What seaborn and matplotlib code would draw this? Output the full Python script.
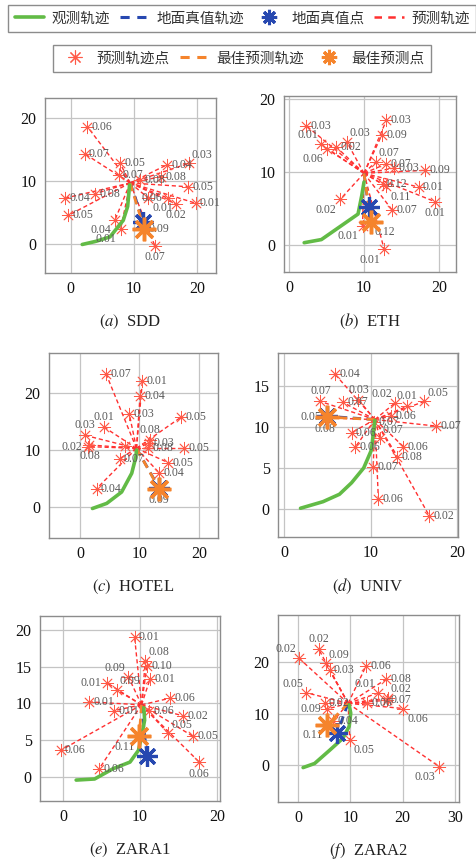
import numpy as np
import pandas as pd
import matplotlib
matplotlib.use("Agg")
import matplotlib.pyplot as plt
from matplotlib.lines import Line2D
import seaborn as sns

# ---------------------------------------------------------------- data
# Each scene: start of prediction, observed path, ground-truth endpoint,
# best predicted endpoint (with its probability) and the sampled endpoints.

SDD_ORIGIN = (9.4, 9.7)
SDD_OBS_X = [1.8, 4.0, 6.2, 8.3, 9.0, 9.3]
SDD_OBS_Y = [0.0, 0.5, 1.2, 3.8, 6.0, 9.4]
SDD_GT = (11.5, 3.6)
SDD_BEST = (11.6, 2.5)
SDD_BEST_P = 0.09
SDD_PX = [2.6, 2.2, 7.8, 7.6, 15.3, 18.7, 14.3, 11.0, 18.6, 19.8, 16.6, 15.4, 12.3, -0.95, 3.8, -0.4, 7.0, 7.9, 13.3]
SDD_PY = [18.6, 14.3, 12.8, 10.9, 12.6, 12.8, 10.7, 10.2, 9.1, 6.5, 6.4, 7.3, 7.3, 7.3, 8.0, 4.6, 3.9, 2.5, -0.2]
SDD_P = [0.06, 0.07, 0.05, 0.07, 0.04, 0.03, 0.08, 0.08, 0.05, 0.01, 0.02, 0.06, 0.01, 0.04, 0.08, 0.05, 0.04, 0.01, 0.07]

ETH_ORIGIN = (10.0, 9.8)
ETH_OBS_X = [2.0, 4.3, 9.2, 9.7, 10.0]
ETH_OBS_Y = [0.27, 0.7, 4.2, 6.75, 8.6]
ETH_GT = (10.6, 5.2)
ETH_BEST = (10.9, 3.1)
ETH_BEST_P = 0.12
ETH_PX = [2.3, 4.2, 5.1, 6.3, 7.7, 12.4, 13.0, 11.6, 13.0, 14.0, 18.2, 12.5, 13.0, 17.3, 19.5, 13.8, 6.8, 9.8, 12.7]
ETH_PY = [16.3, 13.8, 13.1, 13.4, 14.1, 15.1, 17.1, 11.4, 11.1, 10.5, 10.2, 8.3, 8.0, 7.9, 5.9, 4.7, 6.2, 2.6, -0.65]
ETH_P = [0.03, 0.01, 0.06, 0.02, 0.03, 0.09, 0.03, 0.07, 0.07, 0.03, 0.09, 0.12, 0.11, 0.01, 0.01, 0.07, 0.02, 0.01, 0.01]

HOTEL_ORIGIN = (9.5, 10.3)
HOTEL_OBS_X = [2.1, 4.5, 7.0, 8.7, 9.4, 9.5]
HOTEL_OBS_Y = [-0.3, 0.6, 2.6, 5.9, 8.8, 10.0]
HOTEL_GT = (13.3, 3.3)
HOTEL_BEST = (13.3, 3.2)
HOTEL_BEST_P = 0.09
HOTEL_PX = [4.4, 10.5, 10.1, 8.3, 4.1, 17.0, 0.84, 1.4, 1.6, 7.6, 6.7, 2.8, 11.8, 11.6, 11.5, 17.5, 14.8, 13.3]
HOTEL_PY = [23.4, 22.2, 19.5, 16.3, 14.0, 15.8, 12.6, 10.6, 10.9, 10.7, 8.5, 3.2, 11.8, 11.2, 10.3, 10.3, 7.8, 6.0]
HOTEL_P = [0.07, 0.01, 0.04, 0.03, 0.01, 0.05, 0.03, 0.02, 0.08, None, 0.07, 0.04, 0.08, 0.03, 0.08, 0.05, 0.05, 0.04]

UNIV_ORIGIN = (10.5, 10.9)
UNIV_OBS_X = [1.9, 4.5, 6.4, 7.8, 9.2, 10.1, 10.4, 10.5]
UNIV_OBS_Y = [0.1, 0.9, 1.8, 3.2, 5.0, 7.2, 10.0, 10.8]
UNIV_GT = (5.0, 11.3)
UNIV_BEST = (5.0, 11.2)
UNIV_BEST_P = 0.05
UNIV_PX = [4.7, 5.9, 4.2, 6.8, 8.6, 12.8, 14.2, 16.2, 12.4, 17.6, 10.4, 7.8, 8.2, 11.1, 13.8, 13.1, 10.3, 10.9, 16.8]
UNIV_PY = [11.1, 16.4, 13.1, 13.0, 13.3, 12.9, 12.5, 13.1, 11.3, 10.1, 10.6, 9.3, 7.5, 8.6, 7.6, 6.4, 5.1, 1.2, -0.85]
UNIV_P = [0.08, 0.04, 0.07, 0.07, 0.03, 0.02, 0.01, 0.05, 0.06, 0.07, 0.07, 0.06, 0.06, 0.07, 0.06, 0.08, 0.07, 0.06, 0.02]

ZARA1_ORIGIN = (10.2, 9.8)
ZARA1_OBS_X = [1.7, 4.1, 6.5, 8.7, 9.8, 10.2, 10.6, 10.5]
ZARA1_OBS_Y = [-0.45, -0.3, 1.1, 2.0, 3.6, 5.5, 7.7, 9.4]
ZARA1_GT = (10.9, 2.8)
ZARA1_BEST = (9.9, 5.5)
ZARA1_BEST_P = 0.11
ZARA1_PX = [9.3, 10.7, 10.9, 11.3, 8.5, 5.7, 7.0, 3.4, 13.9, 15.6, 13.7, 16.9, 17.7, -0.3, 4.7, 6.6, 11.2]
ZARA1_PY = [19.0, 15.8, 15.1, 13.3, 13.6, 12.8, 11.8, 10.2, 10.7, 8.3, 5.9, 5.5, 2.0, 3.6, 1.1, 9.0, 8.9]
ZARA1_P = [0.01, 0.08, 0.10, 0.01, 0.09, 0.01, 0.09, 0.01, 0.06, 0.02, 0.05, 0.05, 0.06, 0.06, 0.06, 0.01, 0.06]

ZARA2_ORIGIN = (9.6, 12.0)
ZARA2_OBS_X = [1.0, 3.2, 6.1, 8.6, 9.8, 10.1, 9.8]
ZARA2_OBS_Y = [-0.5, 0.3, 2.9, 5.2, 7.5, 10.1, 11.7]
ZARA2_GT = (7.5, 6.2)
ZARA2_BEST = (5.6, 7.8)
ZARA2_BEST_P = 0.11
ZARA2_PX = [0.2, 4.0, 5.3, 6.1, 13.0, 16.9, 15.3, 17.2, 17.0, 13.2, 20.1, 1.5, 5.1, 5.6, 9.9, 27.0, 6.8]
ZARA2_PY = [20.8, 22.5, 19.8, 18.5, 19.2, 16.7, 14.0, 13.0, 12.6, 12.1, 11.0, 14.1, 12.1, 10.9, 4.9, -0.3, 8.6]
ZARA2_P = [0.02, 0.02, 0.09, 0.03, 0.06, 0.08, 0.01, 0.02, 0.07, 0.06, 0.06, 0.05, 0.02, 0.09, 0.05, 0.03, 0.04]

CAPTION_LETTERS = ["a", "b", "c", "d", "e", "f"]
SCENE_NAMES = ["SDD", "ETH", "HOTEL", "UNIV", "ZARA1", "ZARA2"]
LEGEND_LABELS = ["观测轨迹", "地面真值轨迹", "地面真值点", "预测轨迹",
                 "预测轨迹点", "最佳预测轨迹", "最佳预测点"]

# ---------------------------------------------------------------- layout
# where each probability label sits relative to its endpoint
LABEL_SIDE = {
    "SDD": ["r", "r", "r", "r", "r", "ar", "r", "r", "r", "r", "b", "l", "br", "r", "r", "r", "bl", "bl", "b"],
    "ETH": ["r", "al", "bl", "r", "ar", "r", "r", "ar", "r", "r", "r", "r", "br", "r", "b", "r", "bl", "bl", "bl"],
    "HOTEL": ["r", "r", "r", "r", "a", "r", "a", "l", "b", "r", "r", "r", "a", "r", "r", "r", "r", "r"],
    "UNIV": ["b", "r", "a", "r", "a", "al", "a", "ar", "r", "r", "r", "r", "r", "ar", "r", "r", "r", "r", "r"],
    "ZARA1": ["r", "ar", "r", "r", "al", "l", "ar", "r", "r", "r", "ar", "r", "b", "r", "r", "r", "r"],
    "ZARA2": ["al", "a", "ar", "r", "r", "r", "al", "ar", "r", "r", "br", "al", "r", "l", "br", "bl", "r"],
}
BEST_SIDE = {"SDD": "r", "ETH": "br", "HOTEL": "b", "UNIV": "l", "ZARA1": "bl", "ZARA2": "bl"}

# axes rectangles in pixels: left, top, right, bottom
FIG_W, FIG_H = 476, 865
AX_PX = {
    "SDD": (45, 98, 216, 273),
    "ETH": (284, 96, 456, 272),
    "HOTEL": (49, 353, 218, 538),
    "UNIV": (278, 353, 458, 537),
    "ZARA1": (40, 616, 220, 801),
    "ZARA2": (278, 615, 459, 802),
}
LIMITS = {
    "SDD": ((-4.1, 23.0), (-4.5, 23.1), [0, 10, 20], [0, 10, 20]),
    "ETH": ((-0.7, 22.3), (-3.75, 20.4), [0, 10, 20], [0, 10, 20]),
    "HOTEL": ((-5.2, 23.2), (-5.5, 27.1), [0, 10, 20], [0, 10, 20]),
    "UNIV": ((-0.7, 20.1), (-3.4, 19.0), [0, 10, 20], [0, 5, 10, 15]),
    "ZARA1": ((-3.0, 20.4), (-3.3, 21.9), [0, 10, 20], [0, 5, 10, 15, 20]),
    "ZARA2": ((-3.8, 30.8), (-7.2, 29.2), [0, 10, 20, 30], [0, 10, 20]),
}

OFFSETS = {
    "r": (3, 0, "left", "center"), "l": (-4, 0, "right", "center"),
    "a": (0, 3, "center", "bottom"), "b": (0, -4, "center", "top"),
    "ar": (2, 2, "left", "bottom"), "al": (-2, 2, "right", "bottom"),
    "br": (3, -3, "left", "top"), "bl": (-3, -3, "right", "top"),
}

GREEN = "#62bb46"
BLUE = "#2748b0"
RED = "#ff3030"
RED_MK = "#ff5a48"
ORANGE = "#f5842c"
TEXT_GRAY = "#5a5a5a"
SERIF = "Liberation Serif"
STAR = (8, 2, 0)

sns.set_theme(style="whitegrid")
plt.rcParams["font.family"] = ["Noto Sans CJK SC", "DejaVu Sans"]
plt.rcParams["mathtext.fontset"] = "stix"

scenes = {
    "SDD": (SDD_ORIGIN, SDD_OBS_X, SDD_OBS_Y, SDD_GT, SDD_BEST, SDD_BEST_P, SDD_PX, SDD_PY, SDD_P),
    "ETH": (ETH_ORIGIN, ETH_OBS_X, ETH_OBS_Y, ETH_GT, ETH_BEST, ETH_BEST_P, ETH_PX, ETH_PY, ETH_P),
    "HOTEL": (HOTEL_ORIGIN, HOTEL_OBS_X, HOTEL_OBS_Y, HOTEL_GT, HOTEL_BEST, HOTEL_BEST_P, HOTEL_PX, HOTEL_PY, HOTEL_P),
    "UNIV": (UNIV_ORIGIN, UNIV_OBS_X, UNIV_OBS_Y, UNIV_GT, UNIV_BEST, UNIV_BEST_P, UNIV_PX, UNIV_PY, UNIV_P),
    "ZARA1": (ZARA1_ORIGIN, ZARA1_OBS_X, ZARA1_OBS_Y, ZARA1_GT, ZARA1_BEST, ZARA1_BEST_P, ZARA1_PX, ZARA1_PY, ZARA1_P),
    "ZARA2": (ZARA2_ORIGIN, ZARA2_OBS_X, ZARA2_OBS_Y, ZARA2_GT, ZARA2_BEST, ZARA2_BEST_P, ZARA2_PX, ZARA2_PY, ZARA2_P),
}

fig = plt.figure(figsize=(FIG_W / 100, FIG_H / 100), dpi=100)


def put_label(ax, x, y, p, side):
    dx, dy, ha, va = OFFSETS[side]
    ax.annotate(f"{p:.2f}", (x, y), xytext=(dx, dy), textcoords="offset points",
                ha=ha, va=va, fontsize=8.5, color=TEXT_GRAY, family=SERIF, zorder=6)


for idx, name in enumerate(SCENE_NAMES):
    origin, ox, oy, gt, best, best_p, px, py, pp = scenes[name]
    l, t, r, b = AX_PX[name]
    ax = fig.add_axes([l / FIG_W, 1 - b / FIG_H, (r - l) / FIG_W, (b - t) / FIG_H])
    xlim, ylim, xt, yt = LIMITS[name]

    # sampled future trajectories fanning out from the last observed point
    for x, y in zip(px, py):
        ax.plot([origin[0], x], [origin[1], y], ls=(0, (3, 2)), color=RED, lw=1.0, zorder=2)
    pts = pd.DataFrame({"x": px, "y": py})
    sns.scatterplot(data=pts, x="x", y="y", marker=STAR, s=80, color=RED_MK,
                    linewidth=0.6, edgecolor=RED_MK, ax=ax, zorder=3, legend=False)

    # ground truth and best prediction
    ax.plot([origin[0], gt[0]], [origin[1], gt[1]], ls=(0, (3, 2)), color=BLUE, lw=2.0, zorder=4)
    ax.plot([origin[0], best[0]], [origin[1], best[1]], ls=(0, (3, 2)), color=ORANGE, lw=2.0, zorder=4)

    obs = pd.DataFrame({"x": ox, "y": oy})
    sns.lineplot(data=obs, x="x", y="y", sort=False, estimator=None, color=GREEN,
                 lw=2.6, ax=ax, zorder=5)

    ax.plot(*gt, marker=STAR, ms=15, mew=2.3, color=BLUE, mec=BLUE, zorder=7)
    ax.plot(*best, marker=STAR, ms=17, mew=2.5, color=ORANGE, mec=ORANGE, zorder=8)

    for x, y, p, side in zip(px, py, pp, LABEL_SIDE[name]):
        if p is not None:
            put_label(ax, x, y, p, side)
    put_label(ax, best[0], best[1], best_p, BEST_SIDE[name])

    ax.set_xlim(*xlim)
    ax.set_ylim(*ylim)
    ax.set_xticks(xt)
    ax.set_yticks(yt)
    ax.set_xlabel("")
    ax.set_ylabel("")
    ax.grid(True, color="#c4c4c4", lw=0.9)
    ax.set_facecolor("white")
    for sp in ax.spines.values():
        sp.set_visible(True)
        sp.set_color("#8c8c8c")
        sp.set_linewidth(1.0)
    ax.tick_params(length=0, pad=6, labelsize=11.5, colors="#111111")
    for lab in ax.get_xticklabels() + ax.get_yticklabels():
        lab.set_family(SERIF)

    cx = (l + r) / 2 / FIG_W
    cy = 1 - (b + 49) / FIG_H
    fig.text(cx, cy, rf"$({CAPTION_LETTERS[idx]})$  {name}", ha="center", va="center",
             fontsize=12, family=SERIF, color="#222222")

# ---------------------------------------------------------------- legends
h_obs = Line2D([], [], color=GREEN, lw=2.6)
h_gt_line = Line2D([], [], color=BLUE, lw=2.2, ls=(0, (3, 2.5)))
h_gt_pt = Line2D([], [], color=BLUE, marker=STAR, ms=11, mew=2.2, ls="none")
h_pred_line = Line2D([], [], color=RED, lw=1.8, ls=(0, (3, 2.5)))
h_pred_pt = Line2D([], [], color=RED_MK, marker=STAR, ms=10, mew=0.8, ls="none")
h_best_line = Line2D([], [], color=ORANGE, lw=2.2, ls=(0, (3, 2.5)))
h_best_pt = Line2D([], [], color=ORANGE, marker=STAR, ms=11, mew=2.2, ls="none")

leg_kw = dict(frameon=True, fancybox=False, shadow=False, fontsize=10.5,
              handlelength=2.05, handletextpad=0.48, columnspacing=0.68,
              borderpad=0.45, borderaxespad=0.0, labelcolor="#333333")
leg1 = fig.legend([h_obs, h_gt_line, h_gt_pt, h_pred_line], LEGEND_LABELS[:4], ncol=4,
                  loc="upper left", bbox_to_anchor=(8 / FIG_W, 1 - 5 / FIG_H), **leg_kw)
leg2 = fig.legend([h_pred_pt, h_best_line, h_best_pt], LEGEND_LABELS[4:], ncol=3,
                  loc="upper center", bbox_to_anchor=(242 / FIG_W, 1 - 45 / FIG_H), **leg_kw)
for leg in (leg1, leg2):
    fr = leg.get_frame()
    fr.set_edgecolor("#8c8c8c")
    fr.set_linewidth(1.0)
    fr.set_alpha(1)

fig.savefig("out.png", dpi=100, facecolor="white")
